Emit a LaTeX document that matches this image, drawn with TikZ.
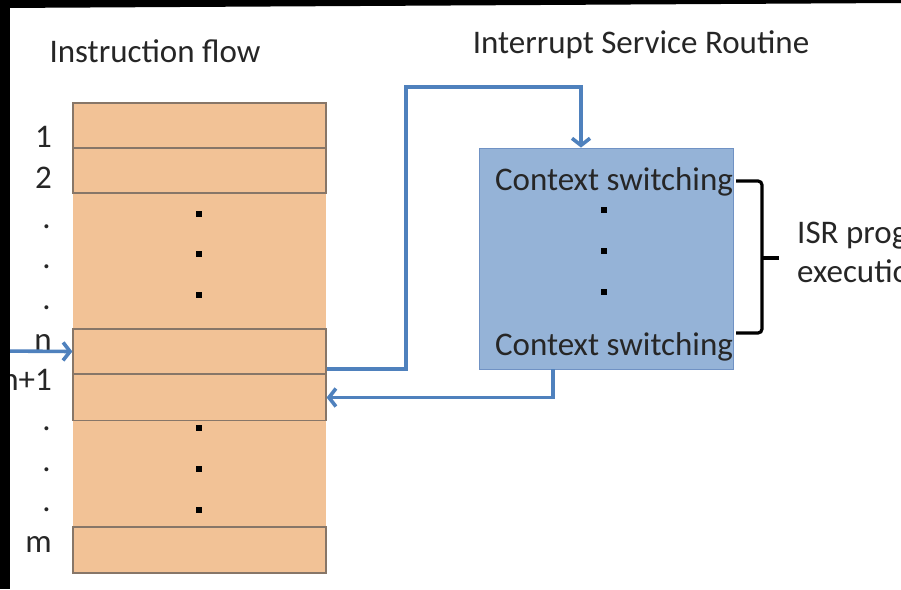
\documentclass[tikz,border=0pt]{standalone}
\usepackage{fontspec}
\setmainfont{Carlito}
\usetikzlibrary{arrows.meta}
\definecolor{boxorange}{RGB}{242,194,150}
\definecolor{boxedge}{RGB}{135,118,104}
\definecolor{isrblue}{RGB}{149,179,215}
\definecolor{isredge}{RGB}{112,146,196}
\definecolor{flowblue}{RGB}{79,129,189}
\definecolor{inktext}{RGB}{38,38,38}
\begin{document}
\begin{tikzpicture}[x=1pt,y=-1pt]
      \tikzset{txt/.style={text=inktext, font=\fontsize{33}{39}\selectfont, inner sep=0pt},
        lbl/.style={txt, anchor=base east},
        instr/.style={draw=boxedge, line width=1.3pt, minimum width=253pt, minimum height=45pt, inner sep=0pt},
        sqdot/.style={fill=black, minimum size=5.5pt, inner sep=0pt},
        flow/.style={draw=flowblue, line width=3.6pt, -{Straight Barb[length=7pt,width=18pt]}},
        brace/.style={draw=black, line width=3.2pt, rounded corners=4pt}}
      \clip (0,0) rectangle (901,589);
      \fill[white] (0,0) rectangle (901,589);
%% Titles
      \node[txt, anchor=base] (tflow) at (155,62) {Instruction flow};
      \node[txt, anchor=base] (tisr) at (641,53) {Interrupt Service Routine};
%% Instruction column
      \node[fill=boxorange, minimum width=253pt, minimum height=470pt, inner sep=0pt] (col) at (199.5,338) {};
      \node[instr] (b1) at (199.5,125.5) {};
      \node[instr] (b2) at (199.5,170.5) {};
      \node[instr] (bn) at (199.5,351.5) {};
      \node[instr, minimum height=46pt] (bn1) at (199.5,397.5) {};
      \node[instr, minimum height=46pt] (bm) at (199.5,550) {};
      \foreach \y/\n in {214/ca,254/cb,295/cc,428/cd,469/ce,510/cf}
        \node[sqdot] (\n) at (199,\y) {};
%% Labels
      \node[lbl] (l1) at (52,147) {1};
      \node[lbl] (l2) at (52,188) {2};
      \foreach \y/\n in {228/da,268/db,309/dc,430/dd,471/de,511/df}
        \node[lbl] (\n) at (51,\y) {.};
      \node[lbl] (ln) at (52,350) {n};
      \node[lbl] (ln1) at (52,390) {n+1};
      \node[lbl] (lm) at (52,552) {m};
%% ISR box
      \node[fill=isrblue, draw=isredge, line width=0.8pt, minimum width=254pt, minimum height=221pt, inner sep=0pt] (isr) at (606,258.5) {};
      \node[txt, anchor=base] (cs1) at (614,190) {Context switching};
      \node[txt, anchor=base] (cs2) at (614,355) {Context switching};
      \foreach \y/\n in {210/ia,251/ib,292/ic}
        \node[sqdot] (\n) at (604,\y) {};
%% Connectors
      \coordinate (entry) at (0,351);
      \draw[flow] (entry) -- (bn.west);
      \draw[flow] ([shift={(0,17.5)}]bn.east) -| (406,87) -| ([shift={(-25,0)}]isr.north);
      \draw[flow] ([shift={(-53,0)}]isr.south) |- (bn1.east);
%% Brace
      \draw[brace] (736,181) -- (762,181) -- (762,333) -- (736,333);
      \draw[brace, rounded corners=0pt] (762,258) -- (779,258);
      \node[txt, anchor=base west] (isra) at (797,243) {ISR program};
      \node[txt, anchor=base west] (isrb) at (797,282) {execution};
%% Frame edges
      \fill[black] (0,0) -- (901,0) -- (901,3) -- (0,8) -- cycle;
      \fill[black] (0,0) rectangle (10,589);
	\end{tikzpicture}
\end{document}
